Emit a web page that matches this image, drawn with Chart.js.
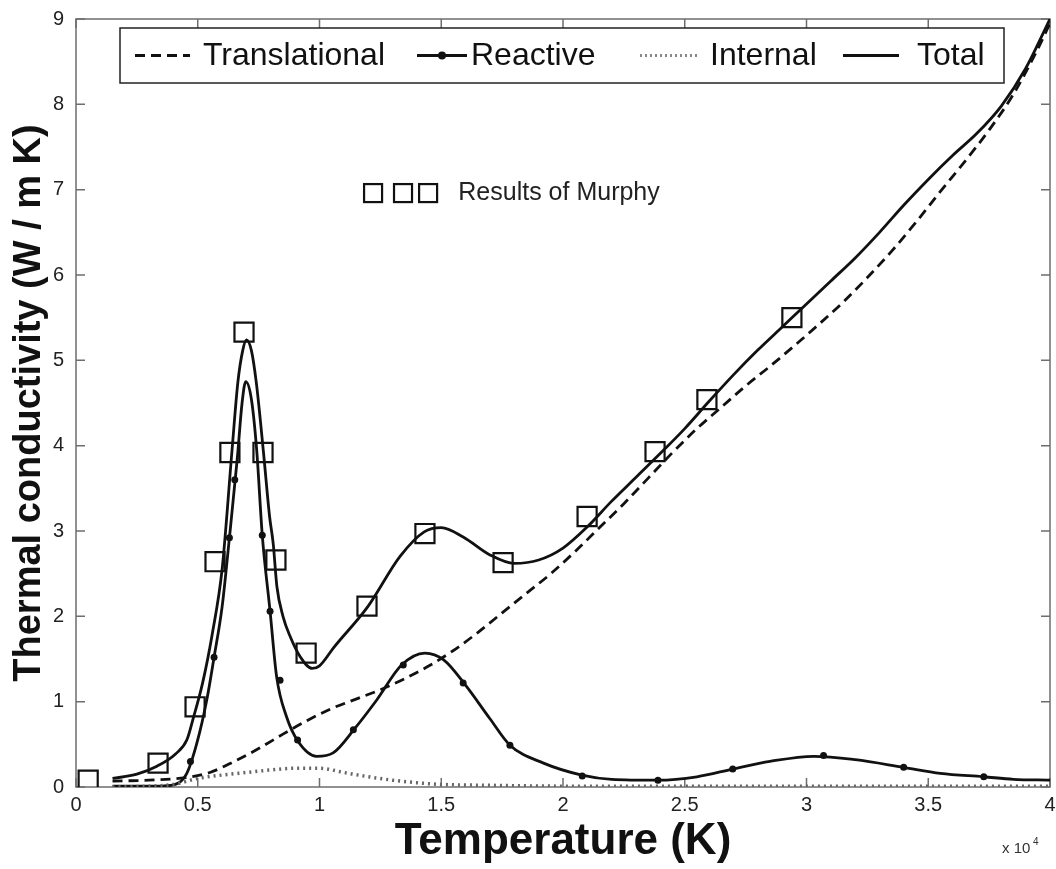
<!DOCTYPE html>
<html>
<head>
<meta charset="utf-8">
<script src="https://cdn.jsdelivr.net/npm/chart.js@4.4.1/dist/chart.umd.min.js"></script>
<style>
  html, body { margin: 0; padding: 0; background: #fff; }
  #wrap { width: 1056px; height: 869px; }
</style>
</head>
<body>
<div id="wrap"><canvas id="chart" width="1056" height="869"></canvas></div>
<script>
// Temperature in units of 10^4 K, conductivity in W / m K
const totalT = [0.15, 0.25, 0.33, 0.41, 0.455, 0.48, 0.52, 0.56, 0.60, 0.64, 0.665, 0.685, 0.70, 0.72, 0.74, 0.77, 0.795, 0.81, 0.825, 0.85, 0.88, 0.92, 0.97, 1.0, 1.06, 1.2, 1.33, 1.43, 1.5, 1.59, 1.70, 1.80, 1.90, 2.0, 2.1, 2.2, 2.3, 2.4, 2.5, 2.6, 2.7, 2.8, 2.9, 3.0, 3.1, 3.2, 3.3, 3.4, 3.5, 3.6, 3.7, 3.8, 3.9, 4.0];
const totalV = [0.10, 0.15, 0.24, 0.39, 0.55, 0.79, 1.22, 1.80, 2.55, 3.92, 4.75, 5.12, 5.24, 5.12, 4.75, 3.92, 3.17, 2.85, 2.35, 2.0, 1.76, 1.53, 1.39, 1.42, 1.64, 2.12, 2.70, 2.99, 3.04, 2.93, 2.72, 2.62, 2.66, 2.80, 3.05, 3.35, 3.63, 3.91, 4.2, 4.52, 4.83, 5.12, 5.39, 5.66, 5.93, 6.2, 6.5, 6.82, 7.12, 7.4, 7.66, 7.98, 8.42, 9.0];

const transT = [0.15, 0.3, 0.45, 0.55, 0.65, 0.75, 0.85, 0.95, 1.05, 1.15, 1.25, 1.35, 1.45, 1.55, 1.65, 1.75, 1.85, 1.95, 2.05, 2.15, 2.25, 2.35, 2.45, 2.55, 2.65, 2.75, 2.85, 2.95, 3.05, 3.15, 3.25, 3.35, 3.45, 3.55, 3.65, 3.75, 3.85, 3.95, 4.0];
const transV = [0.07, 0.08, 0.11, 0.17, 0.30, 0.45, 0.62, 0.78, 0.92, 1.03, 1.14, 1.27, 1.42, 1.60, 1.81, 2.04, 2.27, 2.50, 2.76, 3.04, 3.32, 3.62, 3.92, 4.2, 4.45, 4.7, 4.93, 5.17, 5.42, 5.68, 5.97, 6.28, 6.62, 6.98, 7.33, 7.70, 8.12, 8.65, 8.95];

const reactT = [0.15, 0.3, 0.39, 0.455, 0.496, 0.537, 0.567, 0.600, 0.630, 0.663, 0.682, 0.697, 0.72, 0.742, 0.765, 0.797, 0.824, 0.865, 0.913, 0.988, 1.056, 1.146, 1.235, 1.337, 1.433, 1.51, 1.598, 1.70, 1.782, 1.92, 2.077, 2.2, 2.39, 2.55, 2.697, 2.85, 3.03, 3.2, 3.399, 3.55, 3.728, 3.85, 4.0];
const reactV = [0.01, 0.01, 0.02, 0.16, 0.51, 1.02, 1.52, 2.11, 2.92, 3.87, 4.5, 4.75, 4.55, 3.95, 2.95, 2.06, 1.29, 0.82, 0.53, 0.36, 0.40, 0.69, 1.02, 1.43, 1.57, 1.49, 1.20, 0.80, 0.49, 0.28, 0.14, 0.09, 0.08, 0.12, 0.21, 0.30, 0.36, 0.32, 0.23, 0.16, 0.12, 0.09, 0.08];

const reactDotT = [0.47, 0.567, 0.630, 0.652, 0.765, 0.797, 0.838, 0.91, 1.139, 1.344, 1.59, 1.782, 2.079, 2.39, 2.697, 3.07, 3.399, 3.728];
const reactDotV = [0.3, 1.52, 2.92, 3.6, 2.95, 2.06, 1.25, 0.55, 0.67, 1.43, 1.22, 0.49, 0.13, 0.08, 0.21, 0.37, 0.23, 0.12];

const internT = [0.15, 0.3, 0.4, 0.5, 0.6, 0.7, 0.8, 0.9, 1.0, 1.1, 1.2, 1.3, 1.4, 1.5, 1.7, 2.0, 2.5, 3.0, 3.5, 4.0];
const internV = [0.0, 0.01, 0.03, 0.10, 0.14, 0.17, 0.20, 0.22, 0.22, 0.17, 0.12, 0.08, 0.05, 0.03, 0.02, 0.01, 0.01, 0.01, 0.01, 0.01];

const murphyT = [0.05, 0.337, 0.489, 0.571, 0.632, 0.690, 0.768, 0.821, 0.945, 1.195, 1.433, 1.754, 2.099, 2.378, 2.591, 2.940];
const murphyV = [0.08, 0.28, 0.94, 2.64, 3.92, 5.33, 3.92, 2.66, 1.57, 2.12, 2.97, 2.63, 3.17, 3.93, 4.54, 5.50];

const xTicks = [0, 0.5, 1, 1.5, 2, 2.5, 3, 3.5, 4];
const yTicks = [0, 1, 2, 3, 4, 5, 6, 7, 8, 9];

function pts(ts, vs) {
    return ts.map((t, i) => ({ x: t, y: vs[i] }));
}

// MATLAB style box, inward ticks, legend and the "Results of Murphy" key
const decorations = {
    id: 'decorations',
    beforeDatasetsDraw(chart) {
        const { ctx, chartArea: a, scales: { x, y } } = chart;
        ctx.save();
        ctx.strokeStyle = '#6e6e6e';
        ctx.lineWidth = 1.5;
        ctx.strokeRect(a.left, a.top, a.right - a.left, a.bottom - a.top);
        ctx.beginPath();
        xTicks.forEach(v => {
            const px = x.getPixelForValue(v);
            ctx.moveTo(px, a.bottom); ctx.lineTo(px, a.bottom - 9);
            ctx.moveTo(px, a.top); ctx.lineTo(px, a.top + 9);
        });
        yTicks.forEach(v => {
            const py = y.getPixelForValue(v);
            ctx.moveTo(a.left, py); ctx.lineTo(a.left + 9, py);
            ctx.moveTo(a.right, py); ctx.lineTo(a.right - 9, py);
        });
        ctx.stroke();
        ctx.restore();
    },
    afterDatasetsDraw(chart) {
        const { ctx, chartArea: a, scales: { x, y } } = chart;
        ctx.save();

        // legend box
        const bx = a.left + 44, by = a.top + 9, bw = 884, bh = 55;
        ctx.fillStyle = '#fff';
        ctx.fillRect(bx, by, bw, bh);
        ctx.strokeStyle = '#222';
        ctx.lineWidth = 1.5;
        ctx.strokeRect(bx, by, bw, bh);

        const cy = by + bh / 2;
        const entries = [
            { label: 'Translational', s0: 15, s1: 70, tx: 83, dash: [10, 6], color: '#111', dot: false },
            { label: 'Reactive', s0: 297, s1: 347, tx: 351, dash: [], color: '#111', dot: true },
            { label: 'Internal', s0: 520, s1: 580, tx: 590, dash: [2, 3], color: '#888', dot: false },
            { label: 'Total', s0: 723, s1: 779, tx: 797, dash: [], color: '#111', dot: false }
        ];
        entries.forEach(e => {
            ctx.beginPath();
            ctx.setLineDash(e.dash);
            ctx.strokeStyle = e.color;
            ctx.lineWidth = 2.8;
            ctx.moveTo(bx + e.s0, cy);
            ctx.lineTo(bx + e.s1, cy);
            ctx.stroke();
            ctx.setLineDash([]);
            if (e.dot) {
                ctx.beginPath();
                ctx.fillStyle = '#111';
                ctx.arc(bx + (e.s0 + e.s1) / 2, cy, 4, 0, Math.PI * 2);
                ctx.fill();
            }
            ctx.fillStyle = '#111';
            ctx.font = '32px "Liberation Sans", Arial, sans-serif';
            ctx.textBaseline = 'middle';
            ctx.fillText(e.label, bx + e.tx, cy + 1);
        });

        // "Results of Murphy" key, placed in data coordinates
        const ky = y.getPixelForValue(6.96);
        ctx.strokeStyle = '#111';
        ctx.lineWidth = 2.2;
        [1.22, 1.343, 1.446].forEach(t => {
            const kx = x.getPixelForValue(t);
            ctx.strokeRect(kx - 9, ky - 9, 18, 18);
        });
        ctx.fillStyle = '#222';
        ctx.font = '25px "Liberation Sans", Arial, sans-serif';
        ctx.textBaseline = 'middle';
        ctx.fillText('Results of Murphy', x.getPixelForValue(1.57), ky);

        // exponent label of the x axis
        ctx.font = '15px "Liberation Sans", Arial, sans-serif';
        ctx.fillStyle = '#333';
        ctx.textBaseline = 'alphabetic';
        ctx.fillText('x 10', a.right - 48, a.bottom + 66);
        ctx.font = '10px "Liberation Sans", Arial, sans-serif';
        ctx.fillText('4', a.right - 17, a.bottom + 58);
        ctx.restore();
    }
};

const lineBase = { showLine: true, pointRadius: 0, fill: false, tension: 0.4, cubicInterpolationMode: 'monotone' };

new Chart(document.getElementById('chart').getContext('2d'), {
    type: 'line',
    data: {
        datasets: [
            Object.assign({ label: 'Internal', data: pts(internT, internV), borderColor: '#666', borderWidth: 3.5, borderDash: [2, 4] }, lineBase),
            Object.assign({ label: 'Translational', data: pts(transT, transV), borderColor: '#111', borderWidth: 2.8, borderDash: [10, 6] }, lineBase),
            Object.assign({ label: 'Reactive', data: pts(reactT, reactV), borderColor: '#111', borderWidth: 2.8 }, lineBase),
            {
                label: 'Reactive points', data: pts(reactDotT, reactDotV), showLine: false,
                pointStyle: 'circle', pointRadius: 3.5, pointBackgroundColor: '#111', pointBorderWidth: 0
            },
            Object.assign({ label: 'Total', data: pts(totalT, totalV), borderColor: '#111', borderWidth: 2.8 }, lineBase),
            {
                label: 'Results of Murphy', data: pts(murphyT, murphyV), showLine: false,
                pointStyle: 'rect', pointRadius: 13.5, pointBorderColor: '#111', pointBorderWidth: 2.2,
                pointBackgroundColor: 'rgba(0,0,0,0)'
            }
        ]
    },
    options: {
        responsive: false,
        animation: false,
        devicePixelRatio: 1,
        layout: { autoPadding: false, padding: { top: 19, right: 6, left: 0, bottom: 0 } },
        plugins: { legend: { display: false }, tooltip: { enabled: false } },
        scales: {
            x: {
                type: 'linear', min: 0, max: 4,
                afterBuildTicks: s => { s.ticks = xTicks.map(v => ({ value: v })); },
                afterFit: s => { s.height = 82; s.paddingLeft = 0; s.paddingRight = 0; },
                grid: { display: false, drawTicks: false },
                border: { display: false },
                ticks: {
                    padding: 6, color: '#222', maxRotation: 0,
                    font: { family: '"Liberation Sans", Arial, sans-serif', size: 20 },
                    callback: v => String(v)
                },
                title: {
                    display: true, text: 'Temperature (K)', color: '#111',
                    font: { family: '"Liberation Sans", Arial, sans-serif', size: 44, weight: 'bold' },
                    padding: { top: 0, bottom: 1 }
                }
            },
            y: {
                type: 'linear', min: 0, max: 9,
                afterBuildTicks: s => { s.ticks = yTicks.map(v => ({ value: v })); },
                afterFit: s => { s.width = 76; s.paddingTop = 0; s.paddingBottom = 0; },
                grid: { display: false, drawTicks: false },
                border: { display: false },
                ticks: {
                    padding: 12, color: '#222',
                    font: { family: '"Liberation Sans", Arial, sans-serif', size: 20 }
                },
                title: {
                    display: true, text: 'Thermal conductivity (W / m K)', color: '#111',
                    font: { family: '"Liberation Sans", Arial, sans-serif', size: 38, weight: 'bold' },
                    padding: { top: 7, bottom: 0 }
                }
            }
        }
    },
    plugins: [decorations]
});
</script>
</body>
</html>
